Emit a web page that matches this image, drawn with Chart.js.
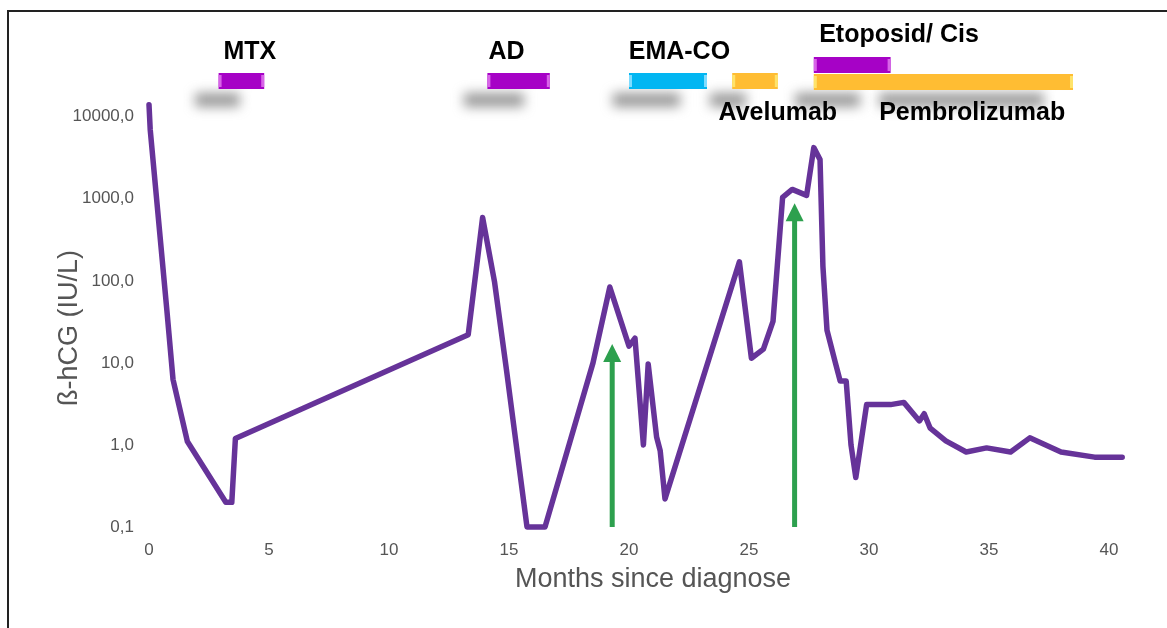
<!DOCTYPE html>
<html>
<head>
<meta charset="utf-8">
<script src="https://cdn.jsdelivr.net/npm/chart.js@4.4.1/dist/chart.umd.min.js"></script>
<style>
  html, body { margin: 0; padding: 0; background: #fff; }
  #wrap { position: relative; width: 1167px; height: 628px; overflow: hidden; }
  #frame { position: absolute; left: 7px; top: 10px; width: 1200px; height: 700px; border-left: 2px solid #222; border-top: 2px solid #222; }
  canvas { position: absolute; left: 0; top: 0; }
</style>
</head>
<body>
<div id="wrap">
  <div id="frame"></div>
  <canvas id="chart" width="1167" height="628"></canvas>
</div>
<script>
// beta-hCG course, months since diagnosis
const months = [0, 0.05, 0.75, 1.0, 1.6, 3.2, 3.45, 3.6, 13.3, 13.9, 14.4, 14.9, 15.75, 16.5,
  18.5, 19.2, 20.0, 20.25, 20.6, 20.8, 21.15, 21.3, 21.5, 24.6, 25.1, 25.6, 26.0, 26.4, 26.8,
  27.4, 27.7, 27.96, 28.08, 28.25, 28.6, 28.8, 29.05, 29.25, 29.45, 29.9, 30.9, 31.45, 32.1,
  32.3, 32.55, 33.2, 34.05, 34.9, 35.9, 36.7, 38.0, 39.4, 40.55];
const hcg = [14000, 7000, 42, 6.3, 1.1, 0.2, 0.2, 1.2, 22, 590, 96, 8, 0.1, 0.1,
  10, 84, 16, 20, 1.0, 9.7, 1.25, 0.85, 0.22, 170, 11.4, 14.7, 32, 1040, 1300,
  1100, 4200, 3000, 150, 25, 10, 6, 6, 1, 0.4, 3.1, 3.1, 3.3, 1.96,
  2.4, 1.6, 1.12, 0.82, 0.92, 0.82, 1.22, 0.82, 0.71, 0.71];

const xTicks = [0, 5, 10, 15, 20, 25, 30, 35, 40];
const yTicks = [0.1, 1, 10, 100, 1000, 10000];

// therapies (months)
const therapyNames = ['MTX', 'AD', 'EMA-CO', 'Avelumab', 'Etoposid/ Cis', 'Pembrolizumab'];
const therapyStart = [2.9, 14.1, 20.0, 24.3, 27.7, 27.7];
const therapyEnd = [4.8, 16.7, 23.25, 26.2, 30.9, 38.5];
const therapyLabelAt = [4.2, 14.9, 22.1, 26.2, 31.25, 34.3];

// green arrows
const arrowMonths = [19.3, 26.9];
const arrowTips = [17, 880];

// greyed-out notes under the bars
const blurStart = [1.8, 13.0, 19.2, 23.25, 26.8, 30.3];
const blurEnd = [3.9, 15.75, 22.25, 25.0, 29.75, 37.4];

const barColors = ['#a602c6', '#a602c6', '#02b6f2', '#ffbd33', '#a602c6', '#ffbd33'];
const capColors = ['#d864e8', '#d864e8', '#7fdcff', '#ffe36a', '#d864e8', '#ffe36a'];
const barTops = [73, 73, 73, 73, 57, 74];
const labelYs = [52, 52, 52, 113, 35, 113];
const fontFamily = '"Liberation Sans", Arial, sans-serif';

const overlay = {
  id: 'overlay',
  beforeDatasetsDraw(chart) {
    const { ctx, scales: { x, y } } = chart;
    ctx.save();
    // blurred notes
    ctx.filter = 'blur(6px)';
    ctx.fillStyle = 'rgba(120,120,120,0.75)';
    blurStart.forEach((s, i) => {
      const x0 = x.getPixelForValue(s), x1 = x.getPixelForValue(blurEnd[i]);
      ctx.fillRect(x0 + 3, 93, x1 - x0 - 6, 14);
    });
    ctx.filter = 'none';
    // arrows
    ctx.fillStyle = '#2da04e';
    arrowMonths.forEach((m, i) => {
      const px = x.getPixelForValue(m);
      const tip = y.getPixelForValue(arrowTips[i]);
      const base = y.getPixelForValue(0.1);
      ctx.fillRect(px - 2.5, tip + 17, 5, base - tip - 17);
      ctx.beginPath();
      ctx.moveTo(px, tip);
      ctx.lineTo(px + 9, tip + 18);
      ctx.lineTo(px - 9, tip + 18);
      ctx.closePath();
      ctx.fill();
    });
    // therapy bars
    therapyNames.forEach((name, i) => {
      const x0 = x.getPixelForValue(therapyStart[i]);
      const x1 = x.getPixelForValue(therapyEnd[i]);
      const top = barTops[i];
      ctx.fillStyle = barColors[i];
      ctx.fillRect(x0, top, x1 - x0, 16);
      ctx.fillStyle = capColors[i];
      ctx.fillRect(x0, top + 2, 3, 12);
      ctx.fillRect(x1 - 3, top + 2, 3, 12);
      ctx.fillStyle = '#000';
      ctx.font = 'bold 25px ' + fontFamily;
      ctx.textAlign = 'center';
      ctx.textBaseline = 'middle';
      ctx.fillText(name, x.getPixelForValue(therapyLabelAt[i]), labelYs[i]);
    });
    // y axis title
    ctx.translate(70, 328);
    ctx.rotate(-Math.PI / 2);
    ctx.fillStyle = '#555';
    ctx.font = '27px ' + fontFamily;
    ctx.textAlign = 'center';
    ctx.textBaseline = 'middle';
    ctx.fillText('ß-hCG (IU/L)', 0, 0);
    ctx.restore();
  }
};

new Chart(document.getElementById('chart'), {
  type: 'line',
  data: {
    datasets: [{
      data: months.map((m, i) => ({ x: m, y: hcg[i] })),
      borderColor: '#663399',
      borderWidth: 5.5,
      borderJoinStyle: 'round',
      borderCapStyle: 'round',
      pointRadius: 0,
      tension: 0,
      clip: false
    }]
  },
  options: {
    responsive: false,
    animation: false,
    layout: { padding: { top: 92, right: 10, left: 0, bottom: 0 } },
    plugins: { legend: { display: false }, tooltip: { enabled: false } },
    scales: {
      x: {
        type: 'linear',
        min: 0,
        max: 42,
        grid: { display: false },
        border: { display: false },
        afterBuildTicks: s => { s.ticks = xTicks.map(v => ({ value: v })); },
        afterFit: s => { s.height = 101; },
        ticks: { padding: 5, color: '#555', font: { family: fontFamily, size: 17 } },
        title: {
          display: true,
          text: 'Months since diagnose',
          color: '#555',
          font: { family: fontFamily, size: 27 },
          padding: { top: 0, bottom: 32 }
        }
      },
      y: {
        type: 'logarithmic',
        min: 0.1,
        max: 20000,
        grid: { display: false },
        border: { display: false },
        afterBuildTicks: s => { s.ticks = yTicks.map(v => ({ value: v })); },
        afterFit: s => { s.width = 149; },
        ticks: {
          padding: 7,
          color: '#555',
          font: { family: fontFamily, size: 17 },
          callback: v => v.toFixed(1).replace('.', ',')
        },
        title: { display: false }
      }
    }
  },
  plugins: [overlay]
});
</script>
</body>
</html>
